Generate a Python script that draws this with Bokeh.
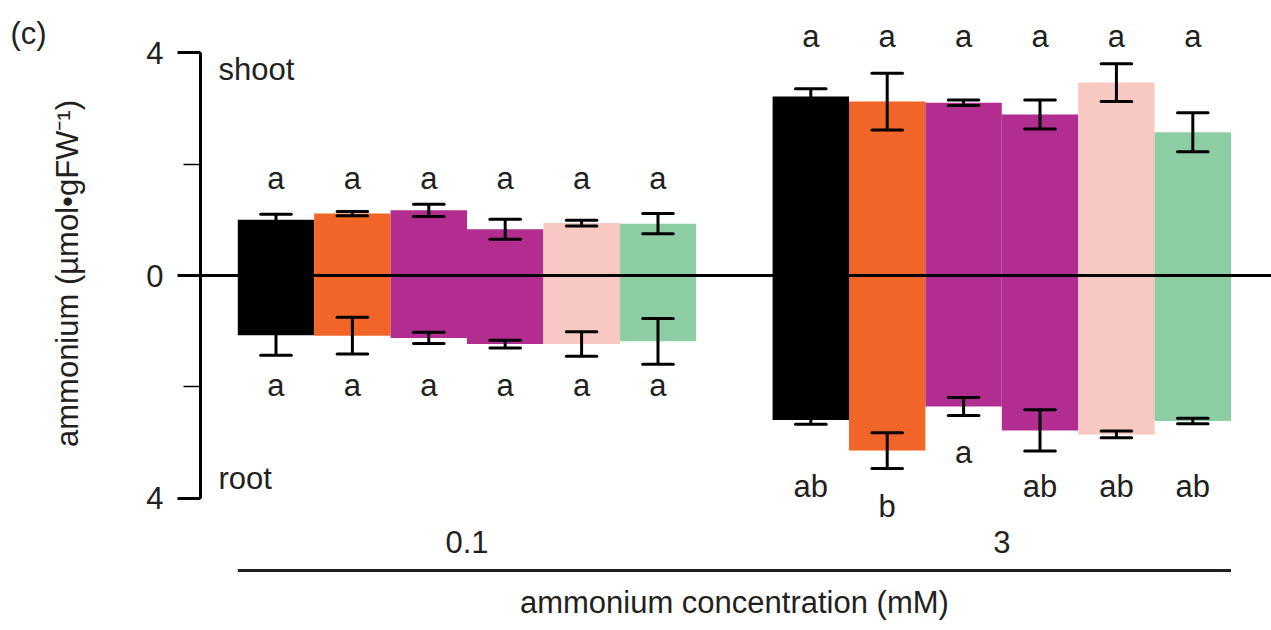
import math
from bokeh.plotting import figure
from bokeh.layouts import row
from bokeh.models import Range1d, FixedTicker, CustomJSTickFormatter, Span, ColumnDataSource, Label
from bokeh.core.properties import value
from bokeh.embed import file_html
from bokeh.resources import INLINE

# ---- data -------------------------------------------------------------
concentrations = ["0.1", "3"]
line_colors = ["#000000", "#F26529", "#B12D8F", "#B12D8F", "#F8C9C3", "#8DCDA3"]

# shoot ammonium (umol/gFW), mean and error
shoot_01 = [1.00, 1.11, 1.17, 0.83, 0.94, 0.93]
shoot_01_err = [0.10, 0.04, 0.11, 0.18, 0.05, 0.18]
shoot_3 = [3.21, 3.12, 3.10, 2.89, 3.46, 2.57]
shoot_3_err = [0.14, 0.51, 0.05, 0.26, 0.34, 0.35]

# root ammonium (umol/gFW), mean and error (drawn downwards)
root_01 = [1.07, 1.08, 1.12, 1.23, 1.23, 1.18]
root_01_err = [0.36, 0.33, 0.10, 0.07, 0.22, 0.41]
root_3 = [2.59, 3.14, 2.35, 2.78, 2.85, 2.61]
root_3_err = [0.08, 0.32, 0.16, 0.37, 0.06, 0.05]

# significance letters
shoot_letters_01 = ["a", "a", "a", "a", "a", "a"]
shoot_letters_3 = ["a", "a", "a", "a", "a", "a"]
root_letters_01 = ["a", "a", "a", "a", "a", "a"]
root_letters_3 = ["ab", "b", "a", "ab", "ab", "ab"]

# ---- layout helpers ---------------------------------------------------
n = len(line_colors)
group_step = n + 1            # one empty slot between concentration groups
label_y_shoot = [1.74, 4.28]
label_y_root_01 = [-1.98] * n
label_y_root_3 = [-3.78, -4.14, -3.18, -3.78, -3.78, -3.78]

xs, colors, shoot, shoot_err, root, root_err = [], [], [], [], [], []
s_let, r_let, s_ly, r_ly = [], [], [], []
groups = [
    (shoot_01, shoot_01_err, root_01, root_01_err, shoot_letters_01, root_letters_01, label_y_root_01),
    (shoot_3, shoot_3_err, root_3, root_3_err, shoot_letters_3, root_letters_3, label_y_root_3),
]
for g, (sv, se, rv, re, sl, rl, rly) in enumerate(groups):
    for i in range(n):
        xs.append(g * group_step + i + 0.5)
        colors.append(line_colors[i])
        shoot.append(sv[i])
        shoot_err.append(se[i])
        root.append(-rv[i])
        root_err.append(re[i])
        s_let.append(sl[i])
        r_let.append(rl[i])
        s_ly.append(label_y_shoot[g])
        r_ly.append(rly[i])

src = ColumnDataSource(dict(
    x=xs, color=colors, shoot=shoot, root=root,
    s_lo=[v - e for v, e in zip(shoot, shoot_err)],
    s_hi=[v + e for v, e in zip(shoot, shoot_err)],
    r_lo=[v - e for v, e in zip(root, root_err)],
    r_hi=[v + e for v, e in zip(root, root_err)],
    cap_l=[x - 0.2 for x in xs], cap_r=[x + 0.2 for x in xs],
    s_let=s_let, r_let=r_let, s_ly=s_ly, r_ly=r_ly,
))

FONT = "Liberation Sans"
TXT = "#231F20"
FS = "31px"
H = 630
LEFT_W = 120

# ---- left strip: panel tag and y-axis title ---------------------------
side = figure(width=LEFT_W, height=H, output_backend="svg", toolbar_location=None,
              x_range=Range1d(0, 1), y_range=Range1d(0, 1),
              x_axis_location=None, y_axis_location=None,
              min_border=0)
side.outline_line_color = None
side.grid.visible = False
side.add_layout(Label(x=10, y=H - 33, x_units="screen", y_units="screen", text="(c)",
                      text_font=FONT, text_font_size=FS, text_color=TXT,
                      text_baseline="alphabetic"))
side.add_layout(Label(x=67, y=H - 273, x_units="screen", y_units="screen",
                      text="ammonium (µmol•gFW⁻¹)", angle=math.pi / 2,
                      text_font=FONT, text_font_size=FS, text_color=TXT,
                      text_align="center", text_baseline="alphabetic"))

# ---- main chart -------------------------------------------------------
p = figure(width=1271 - LEFT_W, height=H, output_backend="svg", toolbar_location=None,
           x_range=Range1d(-0.488, 13.53), y_range=Range1d(-6.368, 4.933),
           x_axis_location=None, min_border_left=200 - LEFT_W, min_border_right=0,
           min_border_top=0, min_border_bottom=0)
p.outline_line_color = None
p.grid.visible = False

# bars
p.vbar(x="x", width=1.0, bottom=0, top="shoot", fill_color="color", line_color=None, source=src)
p.vbar(x="x", width=1.0, bottom="root", top=0, fill_color="color", line_color=None, source=src)

# zero line
p.add_layout(Span(location=0, dimension="width", line_color="black", line_width=3))

# error bars
for lo, hi in (("s_lo", "s_hi"), ("r_lo", "r_hi")):
    p.segment(x0="x", y0=lo, x1="x", y1=hi, line_color="black", line_width=3, source=src)
    p.segment(x0="cap_l", y0=lo, x1="cap_r", y1=lo, line_color="black", line_width=3,
              line_cap="round", source=src)
    p.segment(x0="cap_l", y0=hi, x1="cap_r", y1=hi, line_color="black", line_width=3,
              line_cap="round", source=src)

# significance letters
for col, ycol in (("s_let", "s_ly"), ("r_let", "r_ly")):
    p.text(x="x", y=ycol, text=col, source=src, text_align="center",
           text_baseline="alphabetic", text_font=value(FONT), text_font_size=FS,
           text_color=TXT)

# y axis: shoot up, root down, magnitudes on both sides
ax = p.yaxis[0]
ax.bounds = (-4, 4)
ax.ticker = FixedTicker(ticks=[-4, 0, 4], minor_ticks=[-2, 2])
ax.formatter = CustomJSTickFormatter(code="return Math.abs(tick).toString();")
ax.axis_line_width = 3
ax.axis_line_color = "black"
ax.major_tick_line_width = 3
ax.major_tick_line_color = "black"
ax.major_tick_in = 0
ax.major_tick_out = 23
ax.minor_tick_line_width = 1.5
ax.minor_tick_line_color = "black"
ax.minor_tick_in = 0
ax.minor_tick_out = 17
ax.major_label_standoff = 14
ax.major_label_text_font = FONT
ax.major_label_text_font_size = FS
ax.major_label_text_color = TXT

# organ labels
p.add_layout(Label(x=-0.253, y=3.70, text="shoot", text_font=FONT, text_font_size=FS,
                   text_color=TXT, text_baseline="alphabetic"))
p.add_layout(Label(x=-0.253, y=-3.65, text="root", text_font=FONT, text_font_size=FS,
                   text_color=TXT, text_baseline="alphabetic"))

# concentration groups along the bottom
span_end = (len(concentrations) - 1) * group_step + n
gx = [g * group_step + n / 2 for g in range(len(concentrations))]
p.text(x=gx, y=[-4.78] * len(gx), text=concentrations, text_align="center",
       text_baseline="alphabetic", text_font=value(FONT), text_font_size=FS, text_color=TXT)
p.segment(x0=[0], y0=[-5.29], x1=[span_end], y1=[-5.29], line_color=TXT, line_width=3)
p.text(x=[span_end / 2], y=[-5.86], text=["ammonium concentration (mM)"],
       text_align="center", text_baseline="alphabetic",
       text_font=value(FONT), text_font_size=FS, text_color=TXT)

layout = row(side, p, spacing=0)
open("out.html", "w").write(file_html(layout, INLINE))
